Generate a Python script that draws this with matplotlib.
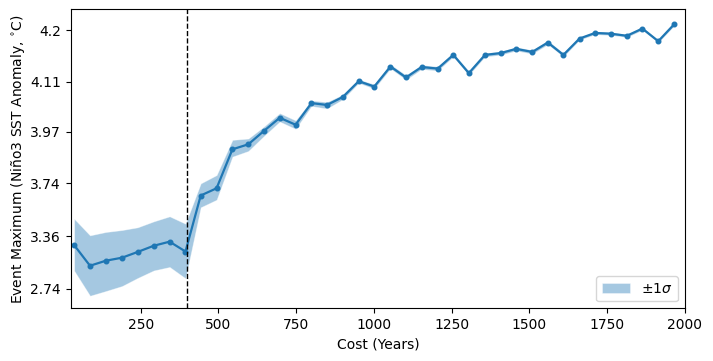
import numpy as np
import matplotlib
matplotlib.use("Agg")
import matplotlib.pyplot as plt

# ---- data ----
cost = [36, 87, 138, 190, 240, 292, 343, 394, 443, 494, 545, 596, 646, 697, 748,
        799, 849, 900, 951, 1001, 1053, 1103, 1153, 1205, 1255, 1305, 1357, 1407,
        1457, 1509, 1559, 1609, 1661, 1711, 1761, 1813, 1863, 1914, 1966]
event_max = [3.274, 3.048, 3.107, 3.141, 3.203, 3.267, 3.307, 3.208, 3.668, 3.712,
             3.904, 3.924, 3.973, 4.016, 3.994, 4.058, 4.053, 4.074, 4.111, 4.099,
             4.141, 4.119, 4.140, 4.137, 4.162, 4.128, 4.162, 4.165, 4.172, 4.167,
             4.182, 4.162, 4.188, 4.196, 4.195, 4.192, 4.202, 4.184, 4.208]
upper = [3.506, 3.366, 3.396, 3.413, 3.436, 3.485, 3.524, 3.466, 3.740, 3.785,
         3.941, 3.946, 3.988, 4.030, 4.008, 4.065, 4.061, 4.080, 4.115, 4.104,
         4.145, 4.124, 4.144, 4.141, 4.165, 4.132, 4.165, 4.168, 4.175, 4.170,
         4.185, 4.165, 4.190, 4.198, 4.197, 4.194, 4.204, 4.186, 4.210]
lower = [2.987, 2.633, 2.706, 2.780, 2.892, 2.990, 3.033, 2.888, 3.590, 3.641,
         3.873, 3.897, 3.955, 4.004, 3.980, 4.050, 4.043, 4.068, 4.107, 4.094,
         4.137, 4.114, 4.136, 4.133, 4.159, 4.124, 4.159, 4.162, 4.169, 4.164,
         4.179, 4.159, 4.186, 4.194, 4.193, 4.190, 4.200, 4.182, 4.206]
threshold = 400
ytick_vals = [2.74, 3.36, 3.74, 3.97, 4.11, 4.2]
ytick_labels = ["2.74", "3.36", "3.74", "3.97", "4.11", "4.2"]
xtick_vals = [250, 500, 750, 1000, 1250, 1500, 1750, 2000]

# scale: transformed axis, -log(A - y)
A = 4.3474
def fwd(y):
    y = np.asarray(y, dtype=float)
    return -np.log(np.clip(A - y, 1e-9, None))
def inv(t):
    t = np.asarray(t, dtype=float)
    return A - np.exp(-t)

fig = plt.figure(figsize=(7.13, 3.61), dpi=100)
ax = fig.add_axes([70.7/713, 1 - 308.3/361, (685 - 70.7)/713, (308.3 - 9.3)/361])
ax.set_yscale('function', functions=(fwd, inv))

c = '#1f77b4'
ax.fill_between(cost, lower, upper, facecolor=c, alpha=0.4, edgecolor=(1, 1, 1, 0.5),
                linewidth=0.6, label=r'$\pm1\sigma$')
ax.plot(cost, event_max, color=c, lw=1.6, marker='o', ms=3.3)
ax.axvline(threshold, color='black', ls='--', lw=1)

ax.set_xlim(25, 2000)
ax.set_ylim(2.4224, 4.2257)
ax.set_xticks(xtick_vals)
ax.set_yticks(ytick_vals)
ax.set_yticklabels(ytick_labels)
ax.minorticks_off()
ax.set_xlabel('Cost (Years)')
ax.set_ylabel(r'Event Maximum (Niño3 SST Anomaly, $^{\circ}$C)', labelpad=2)
ax.legend(loc='lower right')

fig.savefig('out.png', dpi=100)
